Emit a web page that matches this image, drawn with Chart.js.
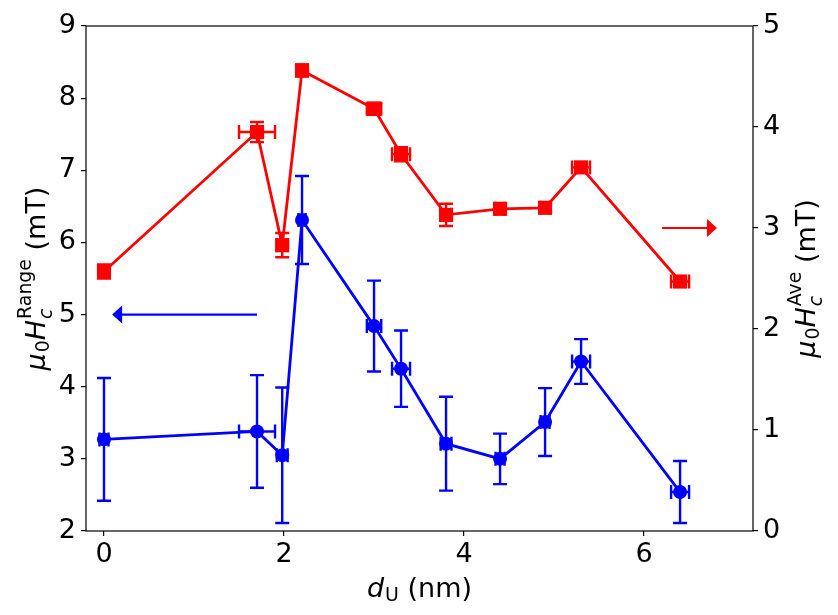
<!DOCTYPE html>
<html lang="en">
<head>
<meta charset="UTF-8">
<title>Hc versus dU</title>
<script src="https://cdn.jsdelivr.net/npm/chart.js"></script>
<style>
  body { margin: 0; background: #fff; }
  #wrap { width: 838px; height: 615px; position: relative; }
</style>
</head>
<body>
<div id="wrap"><canvas id="c"></canvas></div>
<script>
// thickness of the U layer (nm) and its uncertainty
const dU = [0, 1.7, 1.98, 2.2, 3.0, 3.3, 3.8, 4.4, 4.9, 5.3, 6.4];
const dUErr = [0.05, 0.2, 0.06, 0.04, 0.08, 0.1, 0.06, 0.05, 0.05, 0.1, 0.1];
// left axis: range of Hc (mT)
const rangeVals = [3.27, 3.38, 3.05, 6.31, 4.84, 4.25, 3.21, 3.0, 3.51, 4.35, 2.54];
const rangeErr = [0.85, 0.78, 0.94, 0.61, 0.63, 0.53, 0.65, 0.35, 0.47, 0.31, 0.43];
// right axis: average Hc (mT)
const aveVals = [2.57, 3.95, 2.83, 4.56, 4.18, 3.73, 3.13, 3.19, 3.20, 3.60, 2.47];
const aveErr = [0.07, 0.1, 0.12, 0.06, 0.06, 0.07, 0.11, 0.04, 0.04, 0.05, 0.05];
const xTicks = [0, 2, 4, 6];
const leftTicks = [2, 3, 4, 5, 6, 7, 8, 9];
const rightTicks = [0, 1, 2, 3, 4, 5];
// arrows: [from x, to x, y]
const blueArrow = [1.7, 0.09, 5.0];
const redArrow = [6.2, 6.81, 3.0];

const FAM = "'DejaVu Sans', sans-serif";
const FS = 27;

function font(size, italic) {
  return (italic ? 'italic ' : '') + size + 'px ' + FAM;
}

// width of a simple mathtext-like label
function mathWidth(ctx, parts) {
  let w = 0;
  for (const p of parts) {
    ctx.font = font(FS, p.it);
    w += ctx.measureText(p.t).width + (p.it ? 1 : 0);
    let extra = 0;
    if (p.sub) { ctx.font = font(FS * 0.7, p.subIt); extra = ctx.measureText(p.sub).width; }
    if (p.sup) { ctx.font = font(FS * 0.7, false); extra = Math.max(extra, ctx.measureText(p.sup).width); }
    w += extra;
  }
  return w;
}

// draws the label starting at x0 on baseline 0
function drawMath(ctx, parts, x0) {
  let x = x0;
  ctx.textBaseline = 'alphabetic';
  ctx.textAlign = 'left';
  for (const p of parts) {
    ctx.font = font(FS, p.it);
    ctx.fillText(p.t, x, 0);
    x += ctx.measureText(p.t).width + (p.it ? 1 : 0);
    let extra = 0;
    if (p.sub) {
      ctx.font = font(FS * 0.7, p.subIt);
      ctx.fillText(p.sub, x, p.sup ? 7 : 4);
      extra = ctx.measureText(p.sub).width;
    }
    if (p.sup) {
      ctx.font = font(FS * 0.7, false);
      ctx.fillText(p.sup, x, -14);
      extra = Math.max(extra, ctx.measureText(p.sup).width);
    }
    x += extra;
  }
}

const leftLabel = [{t: 'μ', it: true, sub: '0'}, {t: 'H', it: true, sub: 'c', subIt: true, sup: 'Range'}, {t: ' (mT)'}];
const rightLabel = [{t: 'μ', it: true, sub: '0'}, {t: 'H', it: true, sub: 'c', subIt: true, sup: 'Ave'}, {t: ' (mT)'}];
const bottomLabel = [{t: 'd', it: true, sub: 'U'}, {t: ' (nm)'}];

const errorBars = {
  id: 'errorBars',
  beforeDatasetDraw(chart, args) {
    const ds = chart.data.datasets[args.index];
    const xs = chart.scales.x, ys = chart.scales[ds.yAxisID];
    const ctx = chart.ctx;
    const cap = 7;
    ctx.save();
    ctx.strokeStyle = ds.borderColor;
    ctx.lineWidth = 2.4;
    ds.data.forEach((pt, i) => {
      const px = xs.getPixelForValue(pt.x), py = ys.getPixelForValue(pt.y);
      const top = ys.getPixelForValue(pt.y + ds.errY[i]);
      const bot = ys.getPixelForValue(pt.y - ds.errY[i]);
      const lft = xs.getPixelForValue(pt.x - dUErr[i]);
      const rgt = xs.getPixelForValue(pt.x + dUErr[i]);
      ctx.beginPath();
      ctx.moveTo(px, top); ctx.lineTo(px, bot);
      ctx.moveTo(px - cap, top); ctx.lineTo(px + cap, top);
      ctx.moveTo(px - cap, bot); ctx.lineTo(px + cap, bot);
      ctx.moveTo(lft, py); ctx.lineTo(rgt, py);
      ctx.moveTo(lft, py - cap); ctx.lineTo(lft, py + cap);
      ctx.moveTo(rgt, py - cap); ctx.lineTo(rgt, py + cap);
      ctx.stroke();
    });
    ctx.restore();
  }
};

function arrow(ctx, x1, x2, y, color) {
  const dir = Math.sign(x2 - x1);
  ctx.strokeStyle = color;
  ctx.fillStyle = color;
  ctx.lineWidth = 2.2;
  ctx.beginPath();
  ctx.moveTo(x1, y); ctx.lineTo(x2 - dir * 8, y);
  ctx.stroke();
  ctx.beginPath();
  ctx.moveTo(x2, y);
  ctx.lineTo(x2 - dir * 10, y - 9);
  ctx.lineTo(x2 - dir * 10, y + 9);
  ctx.closePath();
  ctx.fill();
}

const decor = {
  id: 'decor',
  afterDatasetsDraw(chart) {
    const ctx = chart.ctx, xs = chart.scales.x;
    ctx.save();
    arrow(ctx, xs.getPixelForValue(blueArrow[0]), xs.getPixelForValue(blueArrow[1]),
      chart.scales.y.getPixelForValue(blueArrow[2]), '#0000ff');
    arrow(ctx, xs.getPixelForValue(redArrow[0]), xs.getPixelForValue(redArrow[1]),
      chart.scales.y2.getPixelForValue(redArrow[2]), '#ff0000');
    ctx.restore();
  },
  afterDraw(chart) {
    const ctx = chart.ctx, a = chart.chartArea;
    ctx.save();
    ctx.strokeStyle = '#000';
    ctx.lineWidth = 1.2;
    ctx.strokeRect(a.left, a.top, a.right - a.left, a.bottom - a.top);
    ctx.fillStyle = '#000';
    const cy = (a.top + a.bottom) / 2;
    // left title
    ctx.save();
    ctx.translate(45, cy);
    ctx.rotate(-Math.PI / 2);
    drawMath(ctx, leftLabel, -mathWidth(ctx, leftLabel) / 2);
    ctx.restore();
    // right title
    ctx.save();
    ctx.translate(815, cy);
    ctx.rotate(-Math.PI / 2);
    drawMath(ctx, rightLabel, -mathWidth(ctx, rightLabel) / 2);
    ctx.restore();
    // bottom title
    ctx.save();
    ctx.translate((a.left + a.right) / 2, 597);
    drawMath(ctx, bottomLabel, -mathWidth(ctx, bottomLabel) / 2);
    ctx.restore();
    ctx.restore();
  }
};

const tickFont = {family: FAM, size: FS};
const axisGrid = {drawOnChartArea: false, color: '#000', lineWidth: 1.2, tickLength: 5};

new Chart(document.getElementById('c'), {
  type: 'line',
  data: {
    datasets: [{
      data: dU.map((x, i) => ({x: x, y: rangeVals[i]})),
      errY: rangeErr,
      yAxisID: 'y',
      borderColor: '#0000ff',
      backgroundColor: '#0000ff',
      borderWidth: 2.8,
      pointStyle: 'circle',
      pointRadius: 7,
      pointBorderWidth: 0,
      tension: 0
    }, {
      data: dU.map((x, i) => ({x: x, y: aveVals[i]})),
      errY: aveErr,
      yAxisID: 'y2',
      borderColor: '#ff0000',
      backgroundColor: '#ff0000',
      borderWidth: 2.8,
      pointStyle: 'rect',
      pointRadius: 10,
      pointBorderWidth: 0,
      tension: 0
    }]
  },
  options: {
    responsive: true,
    maintainAspectRatio: false,
    animation: false,
    layout: {padding: {top: 26, left: 0, right: 0, bottom: 0}},
    plugins: {legend: {display: false}, tooltip: {enabled: false}},
    scales: {
      x: {
        type: 'linear', min: -0.2, max: 7.21,
        afterBuildTicks: s => { s.ticks = xTicks.map(v => ({value: v})); },
        afterFit: s => { s.height = 84; },
        ticks: {font: tickFont, color: '#000', padding: 3},
        grid: axisGrid,
        border: {display: false}
      },
      y: {
        position: 'left', min: 2, max: 9,
        afterBuildTicks: s => { s.ticks = leftTicks.map(v => ({value: v})); },
        afterFit: s => { s.width = 86; },
        ticks: {font: tickFont, color: '#000', padding: 5},
        grid: axisGrid,
        border: {display: false}
      },
      y2: {
        position: 'right', min: 0, max: 5,
        afterBuildTicks: s => { s.ticks = rightTicks.map(v => ({value: v})); },
        afterFit: s => { s.width = 85; },
        ticks: {font: tickFont, color: '#000', padding: 5},
        grid: axisGrid,
        border: {display: false}
      }
    }
  },
  plugins: [errorBars, decor]
});
</script>
</body>
</html>
